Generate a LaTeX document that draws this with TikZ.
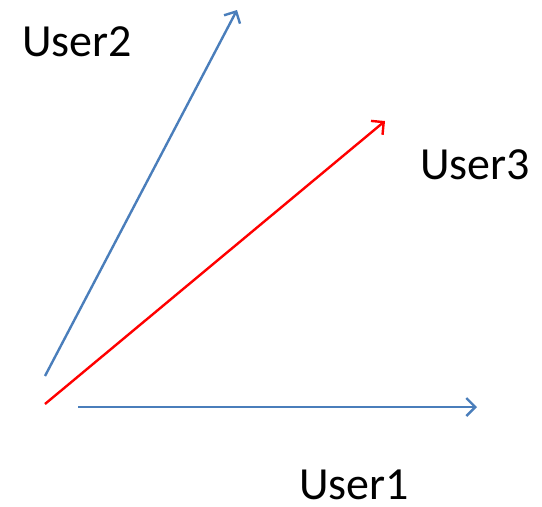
\documentclass[tikz,border=0pt]{standalone}
\usepackage{fontspec}
\setmainfont{Carlito}
\usepackage{tikz}
\usetikzlibrary{arrows.meta}

\definecolor{vecblue}{RGB}{74,126,187}

\begin{document}
\begin{tikzpicture}[x=1pt,y=-1pt,>={Straight Barb[length=9pt,width=18pt,line width=2.4pt]}]
    \useasboundingbox (0,0) rectangle (542,507);
    \tikzset{vec/.style={->, line width=2.4pt}, lbl/.style={inner sep=0pt, font=\fontsize{46}{52}\selectfont}}
    % Vector end points
    \coordinate (o1) at (78,407);
    \coordinate (e1) at (477,407);
    \coordinate (o2) at (45,376);
    \coordinate (e2) at (237,10);
    \coordinate (o3) at (45,404);
    \coordinate (e3) at (385,121);

    % Vectors
    \draw[vec, vecblue] (o1) -- (e1);
    \draw[vec, vecblue] (o2) -- (e2);
    \draw[vec, red] (o3) -- (e3);

    % Labels
    \node[lbl] (user2) at (77,42) {User2};
    \node[lbl] (user3) at (475,165) {User3};
    \node[lbl, text depth=0pt, anchor=base] (user1) at (354,499) {User1};
\end{tikzpicture}
\end{document}
